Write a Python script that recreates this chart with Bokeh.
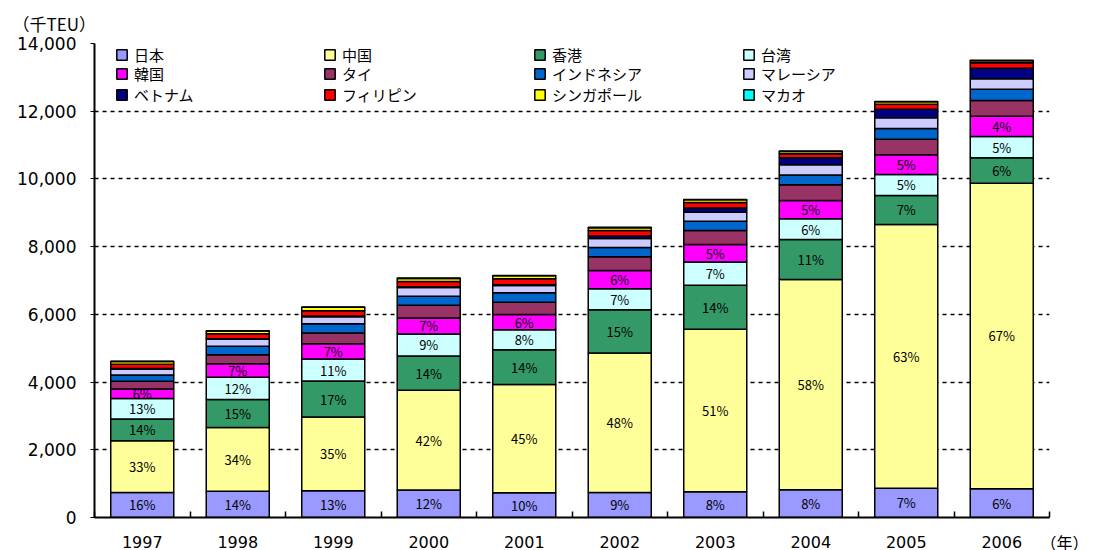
from bokeh.plotting import figure
from bokeh.models import (ColumnDataSource, Range1d, FixedTicker, NumeralTickFormatter,
                          Legend, LegendItem, Title)
from bokeh.core.properties import value
from bokeh.embed import file_html
from bokeh.resources import INLINE

years = ["1997", "1998", "1999", "2000", "2001", "2002", "2003", "2004", "2005", "2006"]

series_names = ["日本", "中国", "香港", "台湾", "韓国", "タイ", "インドネシア",
                "マレーシア", "ベトナム", "フィリピン", "シンガポール", "マカオ"]

# 千TEU
japan = [740, 777, 790, 815, 729, 740, 760, 820, 865, 848]
china = [1525, 1881, 2175, 2945, 3199, 4115, 4800, 6210, 7789, 9026]
hongkong = [647, 827, 1063, 1013, 1025, 1279, 1299, 1181, 857, 750]
taiwan = [600, 659, 650, 650, 591, 620, 691, 611, 620, 629]
korea = [286, 395, 454, 473, 452, 544, 511, 541, 582, 600]
thailand = [225, 266, 314, 375, 363, 402, 414, 464, 460, 463]
indonesia = [189, 256, 277, 265, 278, 277, 275, 289, 317, 334]
malaysia = [177, 207, 207, 257, 215, 266, 265, 301, 316, 307]
vietnam = [15, 15, 20, 20, 25, 70, 130, 210, 254, 313]
philippines = [121, 142, 157, 158, 173, 165, 157, 120, 147, 160]
singapore = [80, 80, 100, 90, 90, 80, 80, 65, 70, 60]
macao = [8, 9, 10, 10, 10, 12, 12, 12, 13, 13]

# shares shown in the bars (%)
japan_pct = [16, 14, 13, 12, 10, 9, 8, 8, 7, 6]
china_pct = [33, 34, 35, 42, 45, 48, 51, 58, 63, 67]
hongkong_pct = [14, 15, 17, 14, 14, 15, 14, 11, 7, 6]
taiwan_pct = [13, 12, 11, 9, 8, 7, 7, 6, 5, 5]
korea_pct = [6, 7, 7, 7, 6, 6, 5, 5, 5, 4]

y_ticks = [0, 2000, 4000, 6000, 8000, 10000, 12000, 14000]

unit_label = "（千TEU）"
year_label = "（年）"

colors = ["#9999FF", "#FFFF99", "#339966", "#CCFFFF", "#FF00FF", "#993366",
          "#0066CC", "#CCCCFF", "#000080", "#FF0000", "#FFFF00", "#00FFFF"]

series = [japan, china, hongkong, taiwan, korea, thailand, indonesia,
          malaysia, vietnam, philippines, singapore, macao]
pcts = [japan_pct, china_pct, hongkong_pct, taiwan_pct, korea_pct]

JP = "Noto Sans CJK JP"
NUM = "DejaVu Sans"

W, H = 1095, 550
BL, BR, BT, BB = 94, 46, 43, 33
FRAME_H = H - BT - BB

p = figure(width=W, height=H, x_range=Range1d(0, len(years)), y_range=Range1d(0, 14000),
           output_backend="svg", toolbar_location=None,
           min_border_left=BL, min_border_right=BR, min_border_top=BT, min_border_bottom=BB)
p.outline_line_color = None
p.background_fill_color = "white"

# unit caption as the (left-shifted) title
p.title.text = unit_label
p.title.align = "left"
p.title.offset = -82
p.title.standoff = 14
p.title.vertical_align = "middle"
p.title.text_font = JP
p.title.text_font_size = "17px"
p.title.text_font_style = "normal"
p.title.text_color = "black"

xs = [i + 0.5 for i in range(len(years))]
keys = ["s%d" % i for i in range(len(series))]
data = {"x": xs}
for k, s in zip(keys, series):
    data[k] = s
src = ColumnDataSource(data)

rends = p.vbar_stack(keys, x="x", width=0.66, source=src, fill_color=colors,
                     line_color="black", line_width=1.5)

# percentage labels
lx, ly, lt = [], [], []
bottoms = [0] * len(years)
for si, s in enumerate(series[:5]):
    for i in range(len(years)):
        lx.append(xs[i])
        ly.append(bottoms[i] + s[i] / 2)
        lt.append("%d%%" % pcts[si][i])
        bottoms[i] += s[i]
p.text(x="x", y="y", text="t", source=ColumnDataSource(dict(x=lx, y=ly, t=lt)),
       text_align="center", text_baseline="middle", text_font=value(JP),
       text_font_size="13px", text_color="black")

# axes
p.xgrid.visible = False
p.ygrid.grid_line_color = "black"
p.ygrid.grid_line_dash = "4 4"
p.ygrid.grid_line_width = 1.5
p.ygrid.ticker = FixedTicker(ticks=y_ticks)

p.yaxis.ticker = FixedTicker(ticks=y_ticks)
p.yaxis.formatter = NumeralTickFormatter(format="0,0")
p.yaxis.axis_line_color = "black"
p.yaxis.axis_line_width = 2
p.yaxis.major_tick_out = 4
p.yaxis.major_tick_in = 0
p.yaxis.minor_tick_line_color = None
p.yaxis.major_label_standoff = 14
p.yaxis.major_label_text_font = NUM
p.yaxis.major_label_text_font_size = "17px"
p.yaxis.major_label_text_color = "black"

p.xaxis.ticker = FixedTicker(ticks=xs, minor_ticks=list(range(len(years) + 1)))
p.xaxis.major_label_overrides = {x: y for x, y in zip(xs, years)}
p.xaxis.axis_line_color = "black"
p.xaxis.axis_line_width = 2
p.xaxis.major_tick_line_color = None
p.xaxis.minor_tick_in = 6
p.xaxis.minor_tick_out = 0
p.xaxis.minor_tick_line_color = "black"
p.xaxis.minor_tick_line_width = 1.5
p.xaxis.major_label_standoff = 12
p.xaxis.major_label_text_font = NUM
p.xaxis.major_label_text_font_size = "16px"
p.xaxis.major_label_text_color = "black"

# year caption: a title below the x axis, pulled up beside the last year label
p.add_layout(Title(text=year_label, align="right", offset=-39, standoff=-42,
                   vertical_align="top", text_font=JP, text_font_size="16px",
                   text_font_style="normal", text_color="black"), "below")

# legend: 4 columns x 3 rows, one Legend per item for exact placement
col_x = [21, 229, 439, 648]
row_center_from_top = [15.3, 34.3, 54.7]
ITEM_H = 14
for r in range(3):
    for c in range(4):
        idx = r * 4 + c
        bottom = FRAME_H - row_center_from_top[r] - ITEM_H / 2
        leg = Legend(items=[LegendItem(label=series_names[idx], renderers=[rends[idx]])],
                     location=(col_x[c], bottom), orientation="vertical",
                     glyph_width=13, glyph_height=ITEM_H - 1, label_height=ITEM_H,
                     spacing=0, label_standoff=6, padding=0, margin=0,
                     label_text_font=JP, label_text_font_size="15px",
                     label_text_color="black", label_text_baseline="middle",
                     background_fill_alpha=0, border_line_alpha=0)
        p.add_layout(leg, "center")

open("out.html", "w").write(file_html(p, INLINE))
